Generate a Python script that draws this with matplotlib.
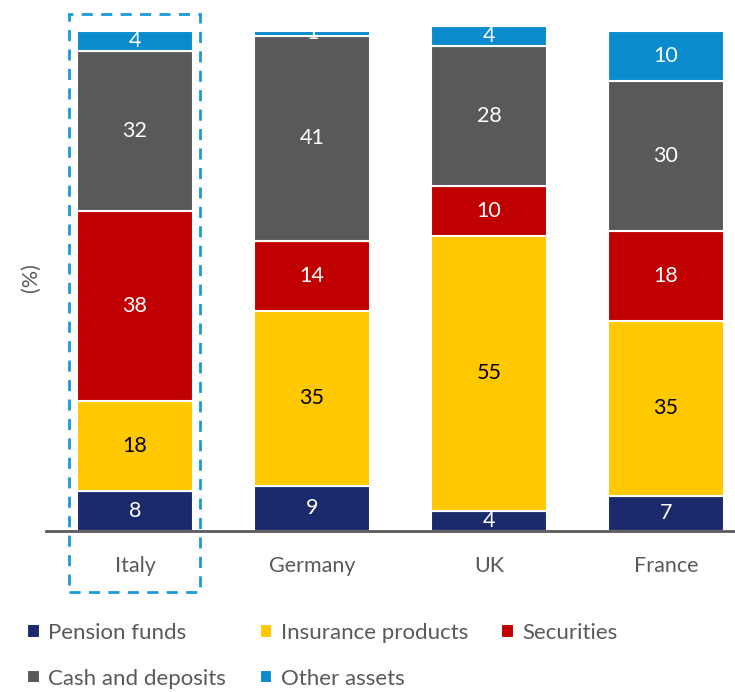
import matplotlib.pyplot as plt
from matplotlib.patches import Rectangle

plt.rcParams['font.family'] = ['Lato', 'DejaVu Sans']

countries = ["Italy", "Germany", "UK", "France"]
series = ["Pension funds", "Insurance products", "Securities", "Cash and deposits", "Other assets"]
pension = [8, 9, 4, 7]
insurance = [18, 35, 55, 35]
securities = [38, 14, 10, 18]
cash = [32, 41, 28, 30]
other = [4, 1, 4, 10]

colors = ["#1b2a6b", "#ffc800", "#c00000", "#595959", "#0a8bcd"]
label_colors = ["white", "black", "white", "white", "white"]
grey = "#595959"

fig = plt.figure(figsize=(7.35, 6.92), dpi=100)
ax = fig.add_axes([0.0626, 0.2327, 0.9374, 0.7313])

x = list(range(len(countries)))
bottom = [0] * len(countries)
handles = []
for vals, name, c, lc in zip([pension, insurance, securities, cash, other], series, colors, label_colors):
    bars = ax.bar(x, vals, width=0.66, bottom=bottom, color=c, edgecolor="white", linewidth=1.5, label=name)
    handles.append(bars)
    for xi, v, b in zip(x, vals, bottom):
        ax.text(xi, b + v / 2, str(v), ha="center", va="center", color=lc, fontsize=15.5)
    bottom = [b + v for b, v in zip(bottom, vals)]

ax.set_xlim(-0.503, 3.39)
ax.set_ylim(0, 101.2)
ax.set_xticks(x)
ax.set_xticklabels(countries, fontsize=15.5, color=grey)
ax.tick_params(axis="x", length=0, pad=18)
ax.set_yticks([])
for s in ["top", "right", "left"]:
    ax.spines[s].set_visible(False)
ax.spines["bottom"].set_color(grey)
ax.spines["bottom"].set_linewidth(2)
ax.set_ylabel("(%)", fontsize=15.5, color=grey, labelpad=4)

# dashed highlight around Italy
box = Rectangle((-0.373, -12.2), 0.74, 115.6, fill=False, edgecolor="#1a9bd7",
                linestyle=(0, (4, 3)), linewidth=2, clip_on=False)
ax.add_patch(box)

order = [0, 3, 1, 4, 2]
leg = fig.legend([handles[i] for i in order], [series[i] for i in order], ncol=3,
                 loc="lower left", bbox_to_anchor=(0.01, -0.024), frameon=False,
                 fontsize=16, handlelength=0.55, handleheight=0.55, handletextpad=0.4,
                 columnspacing=1.5, labelspacing=1.15)
for t in leg.get_texts():
    t.set_color(grey)

fig.savefig("out.png", dpi=100)
